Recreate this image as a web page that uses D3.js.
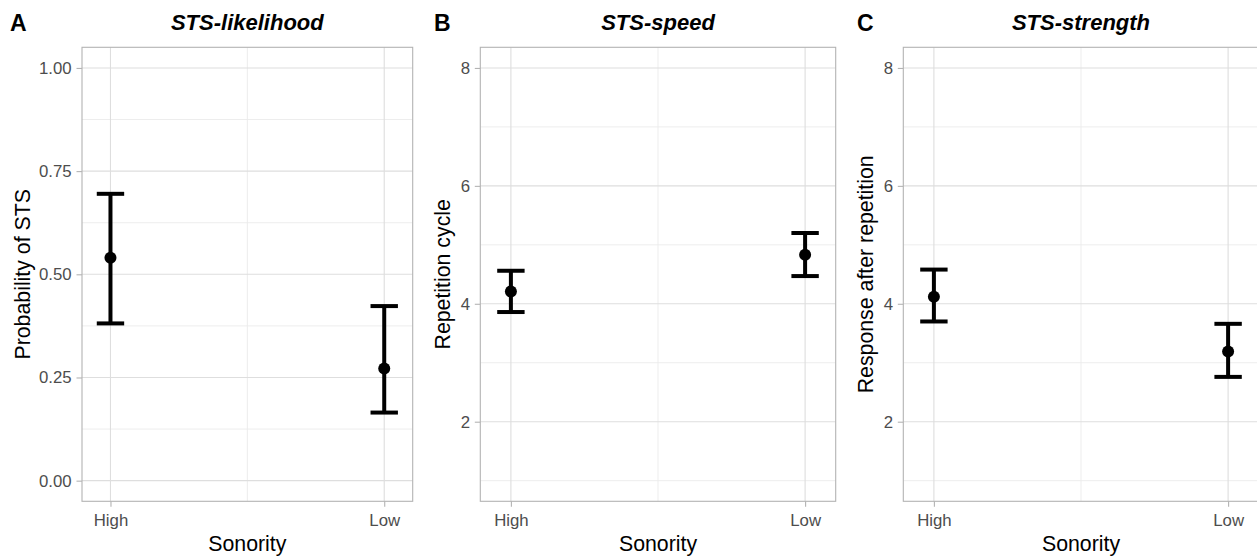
<!DOCTYPE html>
<html>
<head>
<meta charset="utf-8">
<script src="https://cdn.jsdelivr.net/npm/d3@7"></script>
<style>
  body { margin: 0; background: #fff; }
  svg { display: block; font-family: "Liberation Sans", Arial, sans-serif; }
</style>
</head>
<body>
<svg id="chart" width="1257" height="558"></svg>
<script>
// data
const categories = ["High", "Low"];

const panelLetters = ["A", "B", "C"];
const panelTitles = ["STS-likelihood", "STS-speed", "STS-strength"];
const yTitles = ["Probability of STS", "Repetition cycle", "Response after repetition"];
const xTitle = "Sonority";

const likelihoodMean = [0.540, 0.272];
const likelihoodLower = [0.381, 0.165];
const likelihoodUpper = [0.695, 0.423];

const speedMean = [4.21, 4.83];
const speedLower = [3.86, 4.47];
const speedUpper = [4.56, 5.20];

const strengthMean = [4.12, 3.19];
const strengthLower = [3.70, 2.76];
const strengthUpper = [4.58, 3.66];

const probTicks = [0, 0.25, 0.5, 0.75, 1.0];
const probMinor = [0.125, 0.375, 0.625, 0.875];
const countTicks = [2, 4, 6, 8];
const countMinor = [1, 3, 5, 7];

// panel setup
const panels = [
    { letter: panelLetters[0], title: panelTitles[0], yTitle: yTitles[0],
      mean: likelihoodMean, lower: likelihoodLower, upper: likelihoodUpper,
      limits: [0, 1], ticks: probTicks, minor: probMinor, fmt: d3.format(".2f"),
      left: 82, right: 412.7, letterX: 10, yTitleX: 29.5 },
    { letter: panelLetters[1], title: panelTitles[1], yTitle: yTitles[1],
      mean: speedMean, lower: speedLower, upper: speedUpper,
      limits: [1, 8], ticks: countTicks, minor: countMinor, fmt: d3.format("d"),
      left: 480.3, right: 835.7, letterX: 434, yTitleX: 450 },
    { letter: panelLetters[2], title: panelTitles[2], yTitle: yTitles[2],
      mean: strengthMean, lower: strengthLower, upper: strengthUpper,
      limits: [1, 8], ticks: countTicks, minor: countMinor, fmt: d3.format("d"),
      left: 903.3, right: 1258.7, letterX: 857, yTitleX: 873 }
];

const panelTop = 47.3, panelBottom = 501.3;
const svg = d3.select("#chart");

panels.forEach(function(p) {
    let span = p.limits[1] - p.limits[0];
    let y = d3.scaleLinear()
        .domain([p.limits[0] - span * 0.05, p.limits[1] + span * 0.05])
        .range([panelBottom, panelTop]);
    let x = d3.scalePoint()
        .domain(categories)
        .range([p.left, p.right])
        .padding(0.104);
    let xMid = (x(categories[0]) + x(categories[1])) / 2;

    let g = svg.append("g");

    // minor grid
    g.selectAll("line.ymin").data(p.minor).enter().append("line")
        .attr("x1", p.left).attr("x2", p.right)
        .attr("y1", d => y(d)).attr("y2", d => y(d))
        .attr("stroke", "#ebebeb").attr("stroke-width", 0.9);
    g.append("line")
        .attr("x1", xMid).attr("x2", xMid)
        .attr("y1", panelTop).attr("y2", panelBottom)
        .attr("stroke", "#ebebeb").attr("stroke-width", 0.9);

    // major grid
    g.selectAll("line.ymaj").data(p.ticks).enter().append("line")
        .attr("x1", p.left).attr("x2", p.right)
        .attr("y1", d => y(d)).attr("y2", d => y(d))
        .attr("stroke", "#dedede").attr("stroke-width", 1.1);
    g.selectAll("line.xmaj").data(categories).enter().append("line")
        .attr("x1", d => x(d)).attr("x2", d => x(d))
        .attr("y1", panelTop).attr("y2", panelBottom)
        .attr("stroke", "#dedede").attr("stroke-width", 1.1);

    // axes
    let yAxis = d3.axisLeft(y).tickValues(p.ticks).tickFormat(p.fmt)
        .tickSize(5.5).tickPadding(4.8);
    let ya = g.append("g").attr("transform", `translate(${p.left},0)`).call(yAxis);
    let xAxis = d3.axisBottom(x).tickSize(5.5).tickPadding(4);
    let xa = g.append("g").attr("transform", `translate(0,${panelBottom})`).call(xAxis);
    [ya, xa].forEach(a => {
        a.select(".domain").remove();
        a.selectAll(".tick line").attr("stroke", "#b3b3b3").attr("stroke-width", 1.1);
        a.selectAll(".tick text").attr("fill", "#4d4d4d")
            .style("font-size", "16.8px").style("font-family", "Liberation Sans, Arial, sans-serif");
    });
    xa.selectAll(".tick text").attr("dy", "0.92em");

    // panel border
    g.append("rect")
        .attr("x", p.left).attr("y", panelTop)
        .attr("width", p.right - p.left).attr("height", panelBottom - panelTop)
        .attr("fill", "none").attr("stroke", "#b3b3b3").attr("stroke-width", 1.1);

    // error bars
    let idx = d3.range(categories.length);
    g.selectAll("line.err").data(idx).enter().append("line")
        .attr("x1", i => x(categories[i])).attr("x2", i => x(categories[i]))
        .attr("y1", i => y(p.lower[i])).attr("y2", i => y(p.upper[i]))
        .attr("stroke", "#000").attr("stroke-width", 4);
    ["lower", "upper"].forEach(k => {
        g.selectAll("line.cap-" + k).data(idx).enter().append("line")
            .attr("x1", i => x(categories[i]) - 13.7).attr("x2", i => x(categories[i]) + 13.7)
            .attr("y1", i => y(p[k][i])).attr("y2", i => y(p[k][i]))
            .attr("stroke", "#000").attr("stroke-width", 4);
    });
    g.selectAll("circle").data(idx).enter().append("circle")
        .attr("cx", i => x(categories[i])).attr("cy", i => y(p.mean[i]))
        .attr("r", 6).attr("fill", "#000");

    // titles
    g.append("text")
        .attr("x", (p.left + p.right) / 2).attr("y", 30)
        .attr("text-anchor", "middle")
        .style("font-size", "22px").style("font-weight", "bold").style("font-style", "italic")
        .text(p.title);
    g.append("text")
        .attr("x", p.letterX).attr("y", 31)
        .style("font-size", "23px").style("font-weight", "bold")
        .text(p.letter);
    g.append("text")
        .attr("x", (p.left + p.right) / 2).attr("y", 550.5)
        .attr("text-anchor", "middle")
        .style("font-size", "21.3px")
        .text(xTitle);
    g.append("text")
        .attr("transform", `translate(${p.yTitleX},${(panelTop + panelBottom) / 2}) rotate(-90)`)
        .attr("text-anchor", "middle")
        .style("font-size", "21.3px")
        .text(p.yTitle);
});
</script>
</body>
</html>
